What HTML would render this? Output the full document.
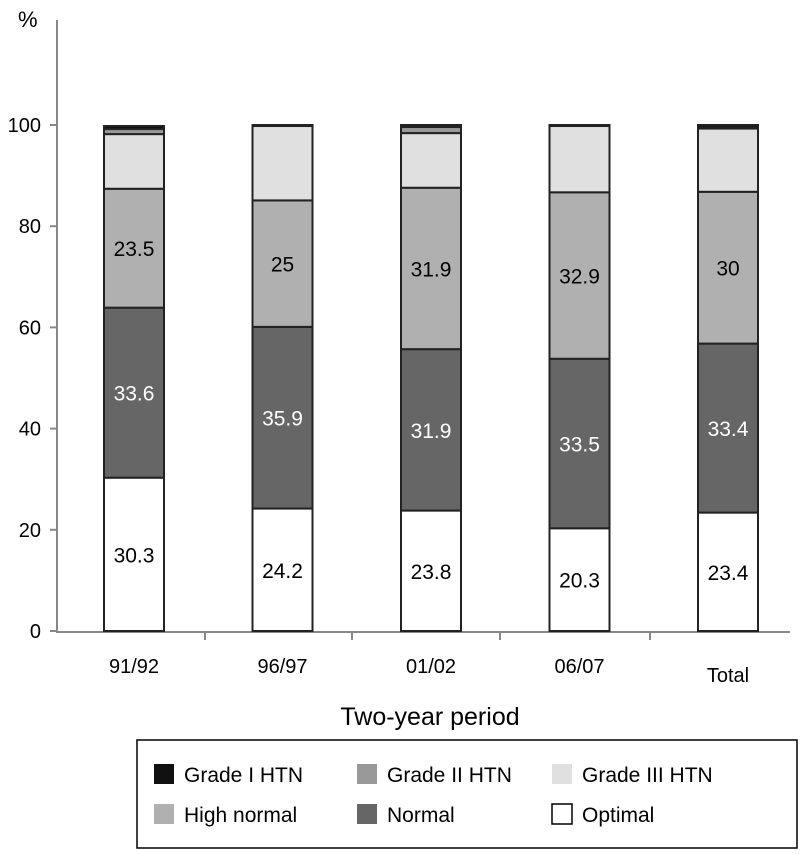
<!DOCTYPE html>
<html><head><meta charset="utf-8"><style>
body{margin:0;background:#fff;font-family:"Liberation Sans",Arial,sans-serif}
svg text{font-family:"Liberation Sans",Arial,sans-serif}
</style></head><body>
<svg id="c" width="812" height="850">
<text x="18" y="27" font-size="22">%</text>
<text x="430" y="725" font-size="25" text-anchor="middle">Two-year period</text>
<g id="axes"></g><g id="bars"></g>
<rect x="137" y="740" width="660" height="108" fill="none" stroke="#000" stroke-width="1.5"/>
<g id="legend"></g>
</svg>
<script>
const categories=["91/92","96/97","01/02","06/07","Total"];
const optimal=[30.3,24.2,23.8,20.3,23.4];
const normal=[33.6,35.9,31.9,33.5,33.4];
const highNormal=[23.5,25,31.9,32.9,30];
const grade3=[10.8,14.7,10.8,13.1,12.5];
const grade2=[1.0,0.0,1.2,0.1,0.2];
const grade1=[0.6,0.2,0.4,0.1,0.5];
const yTicks=[0,20,40,60,80,100];
const showLabel=[true,true,true,false,false,false];
const series=[
 {name:"Optimal",vals:optimal,fill:"#fff",tc:"#000"},
 {name:"Normal",vals:normal,fill:"#666",tc:"#fff"},
 {name:"High normal",vals:highNormal,fill:"#b0b0b0",tc:"#000"},
 {name:"Grade III HTN",vals:grade3,fill:"#e0e0e0",tc:"#000"},
 {name:"Grade II HTN",vals:grade2,fill:"#999",tc:"#000"},
 {name:"Grade I HTN",vals:grade1,fill:"#111",tc:"#000"}];
const NS="http://www.w3.org/2000/svg";
const y=v=>631-v*5.06;
const x=i=>104+i*148.5;
function mk(t,a,p){const e=document.createElementNS(NS,t);for(const k in a)e.setAttribute(k,a[k]);p.appendChild(e);return e;}
const ax=document.getElementById('axes');
let l=mk('line',{x1:57,y1:20,x2:57,y2:632,stroke:'#888','stroke-width':2},ax);


l=mk('line',{x1:56,y1:632,x2:790,y2:632,stroke:'#888','stroke-width':2},ax);


yTicks.forEach(v=>{
 mk('line',{x1:50,y1:y(v),x2:57,y2:y(v),stroke:'#888','stroke-width':2},ax);
 const t=mk('text',{x:41,y:y(v)+7,'font-size':20,'text-anchor':'end'},ax);t.textContent=v;
 
 
});
[205,352,500,650].forEach(px=>mk('line',{x1:px,y1:632,x2:px,y2:640,stroke:'#888','stroke-width':2},ax));
categories.forEach((c,i)=>{
 const t=mk('text',{x:x(i)+30,y:i==4?682:673,'font-size':20,'text-anchor':'middle'},ax);t.textContent=c;
 
 
});
const bg=document.getElementById('bars');
categories.forEach((c,i)=>{
 let base=0;
 series.forEach((s,k)=>{
  const v=s.vals[i];
  if(v>0){
   const r=mk('rect',{x:x(i),y:y(base+v),width:60,height:v*5.06,fill:s.fill,stroke:'#222','stroke-width':2},bg);
   
   
   if(showLabel[k]){
    const t=mk('text',{x:x(i)+30,y:y(base+v/2)+8,'font-size':21,'text-anchor':'middle',fill:s.tc},bg);
    t.textContent=v;
    
    
   }
  }
  base+=v;
 });
});
const lg=document.getElementById('legend');
const order=[5,4,3,2,1,0];
const lx=[154,357,552];
order.forEach((k,j)=>{
 const s=series[k];const cx=lx[j%3],cy=j<3?764:804;
 const r=mk('rect',{x:cx,y:cy,width:20,height:20,fill:s.fill,stroke:s.fill=='#fff'?'#000':'none','stroke-width':1.5},lg);
 
 
 const t=mk('text',{x:cx+30,y:cy+18,'font-size':21},lg);t.textContent=s.name;
 
 
});
</script>
</body></html>
